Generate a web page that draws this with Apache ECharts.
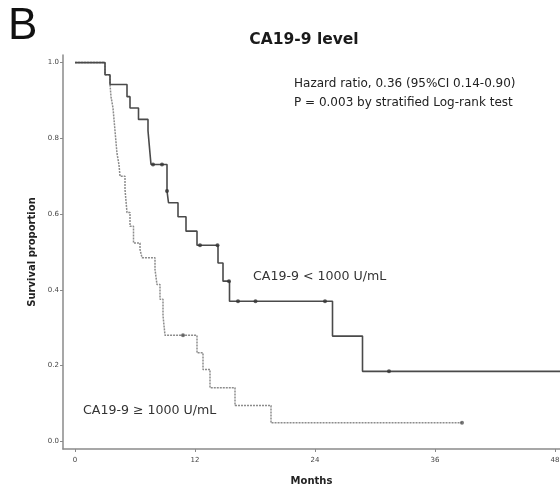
<!DOCTYPE html>
<html>
<head>
<meta charset="utf-8">
<script src="https://cdn.jsdelivr.net/npm/echarts@6/dist/echarts.min.js"></script>
<style>
  html, body { margin: 0; padding: 0; background: #fff; }
  #chart { width: 560px; height: 486px; }
</style>
</head>
<body>
<div id="chart"></div>
<script>
// Kaplan-Meier estimates by baseline CA19-9 level (months, survival proportion)
const lowTimes = [0, 3.0, 3.5, 5.2, 5.5, 6.35, 7.3, 7.4, 7.5, 7.6, 9.2, 9.35, 10.3, 11.1, 12.2, 14.3, 14.8, 15.45, 25.75, 28.75, 48.5];
const lowSurv  = [1.0, 0.968, 0.942, 0.91, 0.88, 0.85, 0.82, 0.79, 0.76, 0.731, 0.661, 0.63, 0.593, 0.555, 0.518, 0.471, 0.423, 0.37, 0.278, 0.185, 0.185];
const lowCensorT = [7.8, 8.7, 9.2, 12.5, 14.25, 15.4, 16.3, 18.05, 25.0, 31.4];
const lowCensorS = [0.731, 0.731, 0.661, 0.518, 0.518, 0.423, 0.37, 0.37, 0.37, 0.185];

const highTimes = [0, 3.0, 3.5, 3.6, 3.8, 3.9, 4.0, 4.1, 4.2, 4.4, 4.5, 5.0, 5.2, 5.5, 5.85, 6.5, 6.7, 8.0, 8.2, 8.5, 8.8, 9.0, 12.2, 12.8, 13.5, 16.0, 19.6, 38.7];
const highSurv  = [1.0, 0.968, 0.942, 0.91, 0.88, 0.85, 0.82, 0.79, 0.76, 0.73, 0.70, 0.665, 0.604, 0.568, 0.524, 0.507, 0.485, 0.454, 0.414, 0.375, 0.332, 0.28, 0.234, 0.19, 0.142, 0.095, 0.049, 0.049];
const highCensorT = [10.8, 38.7];
const highCensorS = [0.28, 0.049];

const monthTicks = [0, 12, 24, 36, 48];
const survTicks = [0, 0.2, 0.4, 0.6, 0.8, 1.0];

const pairs = (xs, ys) => xs.map((x, i) => [x, ys[i]]);

const chart = echarts.init(document.getElementById('chart'));
chart.setOption({
  animation: false,
  backgroundColor: '#fff',
  textStyle: { fontFamily: 'DejaVu Sans' },
  title: {
    text: 'CA19-9 level',
    left: 299, top: 27, textAlign: 'center',
    textStyle: { fontFamily: 'DejaVu Sans', fontWeight: 'bold', fontSize: 15.5, color: '#1a1a1a' }
  },
  grid: { left: 63, right: 0, top: 55, bottom: 37, containLabel: false, outerBoundsMode: 'none' },
  xAxis: {
    type: 'value', min: -1.2, max: 48.5,
    name: 'Months', nameLocation: 'middle', nameGap: 27,
    nameTextStyle: { fontWeight: 'bold', fontSize: 10, color: '#222' },
    splitLine: { show: false },
    axisLine: { onZero: false, lineStyle: { color: '#8a8a8a', width: 1.5 } },
    axisTick: { customValues: monthTicks, length: 3, lineStyle: { color: '#8a8a8a' } },
    axisLabel: { customValues: monthTicks, fontSize: 7, color: '#444', margin: 8 }
  },
  yAxis: {
    type: 'value', min: -0.02, max: 1.02,
    name: 'Survival proportion', nameLocation: 'middle', nameGap: 25, nameRotate: 90,
    nameTextStyle: { fontWeight: 'bold', fontSize: 10, color: '#222' },
    splitLine: { show: false },
    axisLine: { show: true, onZero: false, lineStyle: { color: '#8a8a8a', width: 1.5 } },
    axisTick: { show: true, customValues: survTicks, length: 3, lineStyle: { color: '#8a8a8a' } },
    axisLabel: { customValues: survTicks, fontSize: 7, color: '#444', margin: 4,
      formatter: v => v.toFixed(1) }
  },
  graphic: [
    { type: 'text', left: 8, top: 5, style: { text: 'B', fontFamily: 'Liberation Sans', fontSize: 44, fill: '#111' } },
    { type: 'text', left: 294, top: 75, style: { text: 'Hazard ratio, 0.36 (95%CI 0.14-0.90)\nP = 0.003 by stratified Log-rank test', fontFamily: 'DejaVu Sans', fontSize: 12, lineHeight: 18.5, fill: '#222' } },
    { type: 'text', left: 253, top: 270, style: { text: 'CA19-9 < 1000 U/mL', fontFamily: 'DejaVu Sans', fontSize: 12.6, fill: '#333' } },
    { type: 'text', left: 83, top: 404, style: { text: 'CA19-9 \u2265 1000 U/mL', fontFamily: 'DejaVu Sans', fontSize: 12.6, fill: '#333' } }
  ],
  series: [
    {
      name: 'CA19-9 \u2265 1000 U/mL', type: 'line', step: 'end', showSymbol: false,
      data: pairs(highTimes, highSurv),
      lineStyle: { color: '#8c8c8c', width: 1.5, type: [2, 1] }, z: 2
    },
    {
      name: 'CA19-9 < 1000 U/mL', type: 'line', step: 'end', showSymbol: false,
      data: pairs(lowTimes, lowSurv),
      lineStyle: { color: '#4a4a4a', width: 1.6 }, z: 3
    },
    {
      type: 'scatter', symbol: 'circle', symbolSize: 4,
      data: pairs(lowCensorT, lowCensorS),
      itemStyle: { color: '#333' }, z: 4
    },
    {
      type: 'scatter', symbol: 'circle', symbolSize: 4,
      data: pairs(highCensorT, highCensorS),
      itemStyle: { color: '#555' }, z: 4
    }
  ]
});
</script>
</body>
</html>
